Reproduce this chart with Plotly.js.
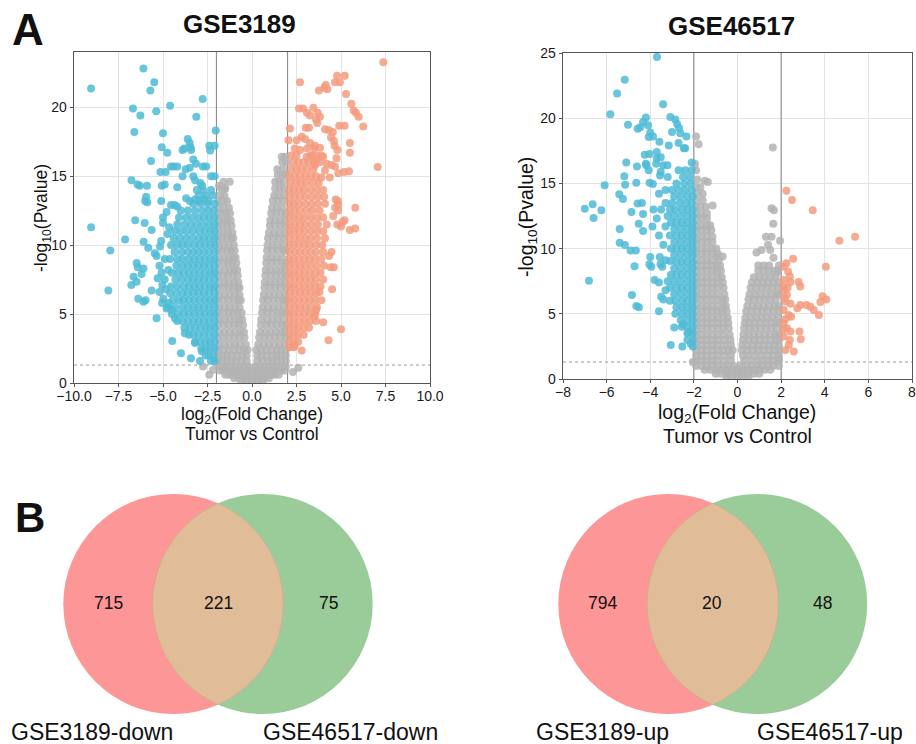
<!DOCTYPE html>
<html>
<head>
<meta charset="utf-8">
<script src="https://cdn.plot.ly/plotly-3.0.1.min.js"></script>
<style>html,body{margin:0;padding:0;background:#fff;}#chart{width:916px;height:744px;}</style>
</head>
<body>
<div id="chart"></div>
<script>
// ---------------- DATA ----------------
// GSE3189 volcano: rows are [y, x1, x2, ...]; pairs are flat [x, y, x, y, ...]
const gse3189NSRows = [
[0.1,-0.6,-0.3,0,0.3,0.6],
[0.35,-1.0,-0.75,-0.5,-0.2,0.1,0.4,0.7,0.95],
[0.6,-1.5,-1.3,-1.1,-0.9,-0.65,-0.4,-0.15,0.1,0.35,0.6,0.85,1.1,1.3,1.5],
[0.9,-1.8,-1.6,-1.4,-1.2,-1.0,-0.75,-0.5,-0.25,0,0.25,0.5,0.75,1.0,1.25,1.45,1.65,1.85],
[1.2,-1.9,-1.7,-1.45,-1.2,-0.95,-0.7,-0.45,-0.2,0.2,0.45,0.7,0.95,1.2,1.45,1.7,1.9],
[1.6,-1.9,-1.65,-1.4,-1.15,-0.9,-0.6,-0.3,0.3,0.6,0.9,1.15,1.4,1.65,1.9],
[2.0,-1.9,-1.65,-1.4,-1.15,-0.85,-0.55,-0.3,0.3,0.55,0.85,1.15,1.4,1.65,1.9],
[2.4,-1.9,-1.6,-1.3,-1.0,-0.7,-0.45,-0.25,0.25,0.5,0.8,1.1,1.4,1.65,1.9],
[2.8,-1.85,-1.55,-1.25,-0.95,-0.65,-0.35,0.35,0.65,0.95,1.25,1.55,1.85],
[3.3,-1.9,-1.6,-1.3,-1.0,-0.7,-0.42,0.4,0.7,1.0,1.3,1.6,1.9],
[3.7,-1.85,-1.55,-1.25,-0.95,-0.65,-0.45,0.45,0.75,1.05,1.35,1.65,1.85],
[4.2,-1.9,-1.6,-1.3,-1.0,-0.75,-0.5,0.5,0.8,1.1,1.4,1.7,1.9],
[4.6,-1.85,-1.55,-1.25,-0.95,-0.7,-0.55,0.52,0.85,1.15,1.45,1.75],
[5.1,-1.9,-1.6,-1.3,-1.05,-0.8,-0.58,0.56,0.85,1.15,1.45,1.7,1.9],
[5.5,-1.85,-1.55,-1.25,-0.95,-0.7,0.6,0.9,1.2,1.5,1.8],
[6.0,-1.9,-1.6,-1.3,-1.0,-0.75,-0.63,0.62,0.9,1.2,1.5,1.75,1.9],
[6.4,-1.85,-1.55,-1.25,-0.95,-0.7,0.66,0.95,1.25,1.55,1.85],
[6.9,-1.9,-1.6,-1.3,-1.05,-0.8,-0.7,0.7,1.0,1.3,1.6,1.9],
[7.3,-1.85,-1.55,-1.3,-1.0,-0.77,0.72,1.0,1.3,1.6,1.85],
[7.8,-1.9,-1.6,-1.35,-1.05,-0.8,0.75,1.05,1.35,1.65,1.9],
[8.2,-1.85,-1.55,-1.25,-1.0,-0.83,0.77,1.05,1.35,1.65,1.85],
[8.7,-1.9,-1.6,-1.35,-1.1,-0.88,0.8,1.1,1.4,1.7,1.9],
[9.1,-1.85,-1.55,-1.3,-1.05,-0.92,0.82,1.1,1.4,1.7],
[9.6,-1.9,-1.65,-1.4,-1.15,-0.97,0.85,1.15,1.45,1.75,1.9],
[10.0,-1.85,-1.6,-1.3,-1.02,0.87,1.15,1.45,1.75],
[10.5,-1.9,-1.65,-1.4,-1.15,-1.05,0.9,1.2,1.5,1.8],
[10.9,-1.85,-1.6,-1.35,-1.1,0.95,1.25,1.55,1.85],
[11.4,-1.9,-1.65,-1.4,-1.15,1.0,1.3,1.6,1.9],
[11.8,-1.85,-1.6,-1.38,-1.2,1.03,1.3,1.6,1.85],
[12.3,-1.9,-1.65,-1.45,-1.23,1.08,1.35,1.65,1.9],
[12.7,-1.85,-1.6,-1.3,1.12,1.4,1.7],
[13.2,-1.9,-1.65,-1.4,1.17,1.45,1.75],
[13.6,-1.8,-1.55,1.25,1.5,1.8],
[14.1,-1.75,-1.5,1.3,1.55,1.8],
[14.6,-1.6,-1.25,1.3,1.55,1.75],
[15.1,1.45,1.7,1.9],
[15.5,1.42,1.75],
[16.0,1.7,1.95],
[16.4,1.67,1.85]
];
const gse3189NSPairs = [-2.75,1.2, -2.2,0.95, -2.4,0.6, 2.3,0.8, 2.6,1.1, -1.85,14.3, -1.55,14.1];

const gse3189DownRows = [
[1.6,-2.1,-2.3],
[2.0,-2.15,-2.4,-2.6],
[2.5,-2.1,-2.35,-2.6,-2.85],
[3.0,-2.1,-2.35,-2.6,-2.9,-3.2],
[3.5,-2.1,-2.4,-2.7,-3.0,-3.3,-3.55],
[4.0,-2.1,-2.35,-2.6,-2.9,-3.2,-3.5,-3.8],
[4.5,-2.1,-2.4,-2.7,-3.0,-3.3,-3.6,-3.9,-4.2],
[5.0,-2.1,-2.35,-2.65,-2.95,-3.25,-3.55,-3.85,-4.15,-4.5],
[5.5,-2.1,-2.4,-2.7,-3.0,-3.3,-3.6,-3.9,-4.3,-4.7],
[6.0,-2.1,-2.35,-2.65,-2.95,-3.25,-3.55,-3.85,-4.1,-4.45],
[6.5,-2.1,-2.4,-2.7,-3.0,-3.3,-3.6,-3.9,-4.25,-4.6],
[7.0,-2.1,-2.35,-2.65,-2.95,-3.25,-3.55,-3.85,-4.2,-4.55],
[7.5,-2.1,-2.4,-2.7,-3.0,-3.3,-3.6,-3.95,-4.3],
[8.0,-2.1,-2.35,-2.65,-2.95,-3.25,-3.55,-3.85,-4.15,-4.5],
[8.5,-2.1,-2.4,-2.7,-3.0,-3.3,-3.6,-3.9,-4.25],
[9.0,-2.1,-2.35,-2.65,-2.95,-3.25,-3.55,-3.9,-4.2,-4.6],
[9.5,-2.1,-2.4,-2.7,-3.0,-3.3,-3.6,-3.95,-4.35],
[10.0,-2.1,-2.35,-2.65,-2.95,-3.25,-3.6,-3.9,-4.2,-4.55],
[10.5,-2.1,-2.4,-2.7,-3.0,-3.35,-3.7,-4.05,-4.4],
[11.0,-2.1,-2.35,-2.65,-2.95,-3.3,-3.65,-4.0,-4.35],
[11.5,-2.1,-2.4,-2.75,-3.1,-3.45,-3.8,-4.2],
[12.0,-2.1,-2.4,-2.7,-3.0,-3.35,-3.7,-4.1],
[12.5,-2.15,-2.45,-2.8,-3.2,-3.6,-4.0],
[13.0,-2.1,-2.5,-2.9,-3.3],
[13.6,-2.2,-2.6,-3.0],
[14.0,-2.3,-2.75,-3.1]
];
const gse3189DownPairs = [
-9.04,21.35, -6.1,22.8, -5.49,21.8, -5.71,21.2, -6.69,19.9, -6.27,19.4, -6.61,18.2, -5.38,19.7, -4.6,20.1, -2.77,20.6,
-3.13,19.3, -2.04,18.3, -5.0,18.1, -5.07,17.1, -4.76,16.7, -5.67,16.1, -3.61,17.7, -3.5,17.4, -3.45,17.1, -3.42,16.9,
-3.9,16.9, -3.8,17.0, -2.4,17.2, -2.1,17.2, -2.35,16.85, -3.3,16.2, -3.15,15.9, -2.76,15.7, -2.57,15.7, -2.3,15.0,
-2.1,15.0, -4.55,15.7, -4.4,15.7, -4.2,15.7, -3.73,15.5, -3.5,15.6, -3.9,15.0, -3.3,15.0, -3.2,14.7, -2.9,14.5,
-2.8,14.3, -5.14,15.3, -4.85,15.3, -6.77,14.7, -6.43,14.4, -6.3,14.3, -5.9,14.3, -5.07,14.3, -4.9,14.4, -4.2,14.2,
-5.95,13.5, -5.88,13.1, -6.0,13.2, -5.1,13.2, -4.55,12.9, -4.35,12.9, -4.2,12.8, -3.7,13.4, -3.5,13.2, -3.2,13.3,
-2.95,13.2, -2.7,13.35, -2.45,13.2,
-9.04,11.3, -7.96,9.6, -8.07,6.7, -7.13,10.4, -6.56,11.8, -6.03,11.6, -6.09,10.24, -6.48,8.7, -6.42,8.4, -6.1,8.3,
-6.2,7.9, -6.65,7.7, -6.78,7.1, -6.48,7.35, -6.39,6.1, -6.1,5.9, -5.98,6.0, -5.64,11.1, -5.83,9.8, -5.46,9.4,
-5.36,9.2, -5.17,9.9, -5.36,4.7, -5.64,6.7, -5.2,6.6, -4.98,6.1, -5.08,8.0, -4.9,7.5, -5.04,7.1, -5.05,5.8,
-4.8,5.4, -4.5,5.3, -4.48,3.04, -3.99,2.15, -3.43,1.8, -2.92,1.6, -3.77,3.6, -4.33,4.7, -3.2,2.9, -2.82,2.3,
-4.8,12.4, -5.0,11.6, -4.75,10.8, -5.1,10.3, -4.9,9.0, -5.2,8.5, -4.7,8.2, -4.85,6.8, -5.3,7.6, -4.7,5.8,
-5.0,12.0, -4.65,11.3
];

const gse3189UpRows = [
[2.6,2.1,2.35],
[3.0,2.1,2.35,2.6],
[3.5,2.1,2.35,2.6,2.9],
[4.0,2.1,2.35,2.6,2.9,3.2],
[4.5,2.1,2.35,2.65,2.95,3.25,3.6],
[5.0,2.1,2.35,2.65,2.95,3.25,3.55],
[5.5,2.1,2.4,2.7,3.0,3.3,3.65],
[6.0,2.1,2.35,2.65,2.95,3.25,3.55,3.9],
[6.5,2.1,2.4,2.7,3.0,3.3,3.6],
[7.0,2.1,2.35,2.65,2.95,3.25,3.55,3.85],
[7.5,2.1,2.4,2.7,3.0,3.3,3.6,4.0],
[8.0,2.1,2.35,2.65,2.95,3.25,3.55,3.85],
[8.5,2.1,2.4,2.7,3.0,3.3,3.65,4.05],
[9.0,2.1,2.35,2.65,2.95,3.25,3.55,3.9],
[9.5,2.1,2.4,2.7,3.0,3.3,3.6,4.0],
[10.0,2.1,2.35,2.65,2.95,3.25,3.6,3.95],
[10.5,2.1,2.4,2.7,3.0,3.3,3.65,4.1],
[11.0,2.1,2.35,2.65,2.95,3.3,3.65,4.0],
[11.5,2.1,2.4,2.7,3.0,3.35,3.7,4.2],
[12.0,2.1,2.35,2.65,2.95,3.3,3.65,4.0],
[12.5,2.1,2.4,2.7,3.05,3.4,3.8],
[13.0,2.1,2.35,2.65,3.0,3.35,3.7,4.1],
[13.5,2.1,2.4,2.7,3.0,3.35,3.7,4.05],
[14.0,2.1,2.35,2.65,2.95,3.3,3.65,4.0],
[14.5,2.15,2.45,2.75,3.05,3.4,3.75],
[15.0,2.1,2.4,2.7,3.0,3.3,3.6],
[15.5,2.2,2.5,2.8,3.1,3.45],
[16.0,2.3,2.6,2.9,3.2,3.5,3.8],
[16.5,2.2,2.5,3.3,3.6,3.9],
[17.0,2.4,3.1,3.5]
];
const gse3189UpPairs = [
7.38,23.26, 4.78,22.27, 5.21,22.27, 4.66,21.8, 4.94,21.8, 2.7,21.8, 3.76,21.2, 4.14,21.6, 4.23,21.3, 4.06,21.4,
5.28,20.96, 5.58,20.24, 5.71,19.76, 5.84,19.6, 5.99,19.3, 6.25,18.6, 7.06,15.67, 2.64,19.9, 2.87,19.9, 3.09,19.6,
3.26,19.4, 3.45,19.95, 3.69,19.6, 3.6,19.1, 3.67,18.85, 3.82,19.3, 2.13,18.45, 3.02,18.5, 3.2,18.5, 4.1,18.4,
4.3,18.35, 4.54,18.2, 4.9,18.65, 5.2,18.65, 2.05,17.6, 2.51,17.6, 2.8,17.85, 2.98,17.7, 3.26,17.4, 3.54,17.2,
3.82,17.05, 4.44,17.8, 4.6,17.55, 4.64,17.2, 4.8,16.9, 5.5,17.4, 5.5,16.7, 4.75,16.3, 4.66,15.7, 4.85,15.2,
5.17,15.3, 5.45,15.35, 2.7,16.9, 3.07,16.4, 3.35,16.5, 3.64,16.2, 3.54,15.8, 4.0,16.4, 4.2,15.9, 4.46,15.8,
4.1,15.4, 3.9,14.9, 4.37,14.9, 4.7,13.3, 4.85,12.9, 5.8,12.7, 5.5,11.1, 5.8,11.2, 5.1,11.7, 4.79,11.5,
5.0,11.35, 5.2,11.8, 4.84,12.5, 4.56,12.1, 4.82,13.2, 4.67,12.7, 4.47,9.5, 4.33,9.2, 4.42,8.4, 4.6,8.4,
4.5,6.8, 5.0,3.9, 4.3,3.1, 4.0,4.4, 3.6,5.3, 3.5,4.8, 2.79,2.35, 2.4,2.7, 3.79,6.6
];

// GSE46517 volcano
const gse46517NSRows = [
[0.15,-0.5,-0.25,0,0.25,0.5],
[0.4,-1.0,-0.75,-0.5,-0.25,0,0.25,0.5,0.75,1.0],
[0.7,-1.5,-1.25,-1.0,-0.75,-0.5,-0.25,0,0.25,0.5,0.75,1.0,1.25,1.5],
[1.0,-1.9,-1.65,-1.4,-1.15,-0.9,-0.65,-0.4,-0.15,0.15,0.4,0.65,0.9,1.15,1.4,1.65,1.9],
[1.4,-1.9,-1.65,-1.4,-1.15,-0.9,-0.6,-0.3,0.3,0.6,0.9,1.15,1.4,1.65,1.9],
[1.8,-1.9,-1.65,-1.4,-1.15,-0.9,-0.6,-0.3,0.25,0.5,0.8,1.1,1.4,1.65,1.9],
[2.2,-1.9,-1.65,-1.4,-1.15,-0.9,-0.65,-0.4,-0.22,0.2,0.45,0.7,0.95,1.2,1.45,1.7,1.9],
[2.6,-1.9,-1.65,-1.4,-1.15,-0.9,-0.6,-0.3,0.22,0.45,0.7,0.95,1.2,1.45,1.7,1.9],
[3.0,-1.9,-1.65,-1.4,-1.15,-0.9,-0.6,-0.32,0.25,0.5,0.75,1.0,1.25,1.5,1.75,1.9],
[3.4,-1.9,-1.65,-1.4,-1.15,-0.9,-0.65,-0.36,0.27,0.5,0.75,1.0,1.25,1.5,1.75,1.9],
[3.9,-1.9,-1.65,-1.4,-1.15,-0.9,-0.65,-0.4,0.3,0.55,0.8,1.05,1.3,1.55,1.8],
[4.3,-1.9,-1.65,-1.4,-1.15,-0.9,-0.65,-0.42,0.33,0.55,0.8,1.05,1.3,1.55,1.8,1.9],
[4.7,-1.9,-1.65,-1.4,-1.15,-0.9,-0.65,-0.45,0.36,0.6,0.85,1.1,1.35,1.6,1.85],
[5.2,-1.9,-1.65,-1.4,-1.15,-0.9,-0.7,-0.5,0.4,0.65,0.9,1.15,1.4,1.65,1.9],
[5.6,-1.9,-1.65,-1.4,-1.15,-0.9,-0.65,-0.53,0.45,0.7,0.95,1.2,1.45,1.7,1.9],
[6.1,-1.9,-1.65,-1.4,-1.15,-0.9,-0.68,-0.56,0.5,0.75,1.0,1.25,1.5,1.75],
[6.5,-1.9,-1.65,-1.4,-1.15,-0.9,-0.6,0.55,0.8,1.05,1.3,1.55,1.8,1.9],
[7.0,-1.9,-1.65,-1.4,-1.15,-0.9,-0.64,0.6,0.85,1.1,1.35,1.6,1.85],
[7.4,-1.9,-1.65,-1.4,-1.15,-0.9,-0.68,0.66,0.9,1.15,1.4,1.65,1.9],
[7.8,-1.9,-1.65,-1.4,-1.15,-0.9,-0.72,0.75,1.0,1.25,1.5,1.75],
[8.3,-1.9,-1.65,-1.4,-1.15,-0.95,-0.76,0.95,1.2,1.45,1.7,1.85],
[8.7,-1.9,-1.65,-1.4,-1.15,-0.95,-0.8,0.95,1.2,1.45,1.9],
[9.1,-1.9,-1.65,-1.4,-1.15,-0.85],
[9.6,-1.9,-1.65,-1.4,-1.15,-0.9],
[10.0,-1.9,-1.65,-1.4,-1.15,-0.97],
[10.5,-1.9,-1.65,-1.4,-1.15],
[10.9,-1.9,-1.65,-1.4,-1.15],
[11.4,-1.9,-1.65,-1.4,-1.2],
[11.8,-1.9,-1.65,-1.4,-1.25],
[12.3,-1.9,-1.65,-1.4],
[12.7,-1.9,-1.65,-1.4],
[13.2,-1.9,-1.7,-1.45],
[13.7,-1.9,-1.6],
[14.2,-1.85,-1.6],
[14.7,-1.9,-1.7]
];
const gse46517NSPairs = [
-1.5,15.2, -1.36,15.1, -1.85,15.3, -1.9,16.0, -1.95,16.5, -1.78,18.0, -1.9,18.6, -1.14,13.3, -0.94,9.4, -0.68,9.4,
1.65,9.3, 1.5,9.9, 1.1,9.9, 0.87,9.7, 1.4,10.3, 1.3,10.9, 1.56,10.9, 1.95,10.6, 1.64,11.9, 1.56,13.1,
1.67,12.95, 1.62,17.76, 1.85,8.2, -2.05,1.3, 1.9,1.5
];

const gse46517DownRows = [
[2.5,-2.05],
[3.0,-2.05,-2.3],
[3.5,-2.05,-2.3],
[4.0,-2.05,-2.3,-2.55],
[4.5,-2.05,-2.3,-2.6],
[5.0,-2.05,-2.3,-2.55,-2.85],
[5.5,-2.05,-2.3,-2.55,-2.8],
[6.0,-2.05,-2.3,-2.55,-2.85,-3.1],
[6.5,-2.05,-2.3,-2.6,-2.9],
[7.0,-2.05,-2.3,-2.55,-2.8,-3.1],
[7.5,-2.05,-2.3,-2.6,-2.9,-3.2],
[8.0,-2.05,-2.3,-2.55,-2.8,-3.05],
[8.5,-2.05,-2.3,-2.6,-2.9],
[9.0,-2.05,-2.3,-2.55,-2.8],
[9.5,-2.05,-2.3,-2.6,-2.9],
[10.0,-2.05,-2.3,-2.55,-2.8,-3.05],
[10.5,-2.05,-2.3,-2.6,-2.9],
[11.0,-2.05,-2.3,-2.55,-2.8,-3.1],
[11.5,-2.05,-2.3,-2.6,-2.9],
[12.0,-2.05,-2.3,-2.55,-2.8,-3.05],
[12.5,-2.05,-2.3,-2.6,-2.9,-3.2],
[13.0,-2.05,-2.3,-2.55,-2.85,-3.1],
[13.5,-2.1,-2.35,-2.65,-3.0,-3.3],
[14.0,-2.05,-2.3,-2.6,-2.9],
[14.5,-2.1,-2.4,-2.7,-3.0],
[15.0,-2.15,-2.45,-2.8],
[15.5,-2.2,-2.5],
[16.0,-2.1,-2.4,-2.7],
[16.6,-2.1]
];
const gse46517DownPairs = [
-3.69,24.7, -5.17,22.95, -5.52,21.9, -3.41,21.07, -5.83,20.3, -5.02,19.5, -4.33,19.7, -4.2,20.05, -4.58,19.2, -4.46,19.3,
-4.1,19.45, -4.0,18.9, -3.87,18.6, -4.07,18.55, -3.58,18.2, -3.08,20.1, -2.85,19.9, -2.77,19.55, -2.68,19.25, -3.0,18.95,
-2.62,18.85, -3.15,17.9, -2.7,18.1, -2.34,18.6, -2.46,17.7, -2.4,17.7, -6.09,14.85, -7.0,13.06, -6.64,13.4, -6.6,12.35,
-6.24,12.95, -6.81,7.54, -5.42,14.16, -5.25,13.8, -5.1,16.6, -5.19,15.55, -5.15,14.9, -4.64,15.05, -4.61,16.3, -5.4,11.5,
-5.4,10.45, -5.16,10.27, -4.9,9.86, -4.66,9.86, -4.72,8.65, -4.86,12.8, -4.58,13.45, -4.38,13.5, -4.33,12.65, -4.53,11.9,
-4.33,11.35, -4.84,6.44, -4.64,5.6, -4.52,5.5, -3.6,5.2, -4.03,15.05, -3.88,14.95, -4.07,16.0, -4.2,16.5, -4.25,17.2,
-4.03,17.25, -4.18,16.4, -3.7,17.4, -3.7,16.9, -3.52,17.0, -3.73,16.5, -3.4,16.4, -3.21,16.4, -3.52,15.9, -3.55,15.6,
-4.0,9.35, -4.04,8.8, -3.95,8.6, -3.56,9.35, -3.53,8.8, -3.45,8.6, -3.3,9.1, -3.08,9.05, -3.4,6.1, -3.06,2.6,
-2.53,2.5, -2.14,2.7, -2.23,3.6, -2.5,4.2, -2.9,3.95, -3.5,13.0, -3.7,12.3, -3.3,11.7, -3.6,11.0, -3.4,10.3,
-3.8,7.6, -3.6,7.4, -3.3,6.8, -3.5,6.3, -3.9,11.7, -3.3,14.5, -3.6,14.2, -3.2,15.5, -3.85,13.0
];
const gse46517UpPairs = [
2.24,14.44, 2.5,13.72, 3.45,12.94, 4.67,10.6, 5.39,10.9, 4.05,8.6, 2.55,9.23, 2.24,8.87, 2.12,8.6, 2.32,8.24,
2.4,7.86, 2.12,7.6, 2.43,7.43, 2.8,7.43, 2.88,7.1, 2.12,6.84, 2.27,6.46, 2.2,5.95, 2.43,5.77, 2.74,5.43,
2.88,5.68, 3.16,5.68, 3.34,5.55, 3.5,5.3, 3.73,4.9, 3.8,5.9, 4.07,6.1, 3.9,6.35, 2.12,5.3, 2.35,4.9,
2.46,4.77, 2.12,4.27, 2.27,3.89, 2.43,3.64, 2.12,3.25, 2.4,3.0, 2.84,3.64, 2.9,3.05, 2.2,2.23, 2.58,2.1,
2.35,2.6, 2.1,7.1, 2.3,7.0, 2.15,6.2, 2.2,4.6, 2.1,3.8
];

// thresholds
const logFCCut = 2;
const pCutLog = 1.3;

// Venn data
const downSetLabels = ['GSE3189-down', 'GSE46517-down'];
const downCounts = [715, 221, 75];
const upSetLabels = ['GSE3189-up', 'GSE46517-up'];
const upCounts = [794, 20, 48];

const panelTitles = ['GSE3189', 'GSE46517'];

// ---------------- HELPERS ----------------
function fromRows(rows){const x=[],y=[];rows.forEach(r=>{for(let i=1;i<r.length;i++){x.push(r[i]);y.push(r[0]);}});return {x,y};}
function fromPairs(p){const x=[],y=[];for(let i=0;i<p.length;i+=2){x.push(p[i]);y.push(p[i+1]);}return {x,y};}
function merge(a,b){return {x:a.x.concat(b.x),y:a.y.concat(b.y)};}

const W=916,H=744;
const FONT='"Liberation Sans", Arial, Helvetica, sans-serif';
const GREY='#B3B3B3', BLUE='#4DBBD5', RED='#F39B7F';
const px=v=>v/W, py=v=>1-v/H;

function pts(d,color,xa,ya){
  return {type:'scatter',mode:'markers',x:d.x,y:d.y,xaxis:xa,yaxis:ya,hoverinfo:'skip',
    marker:{size:8,color:color,opacity:0.85,line:{width:0}}};
}

const data=[
  pts(merge(fromRows(gse3189NSRows),fromPairs(gse3189NSPairs)),GREY,'x','y'),
  pts(merge(fromRows(gse3189DownRows),fromPairs(gse3189DownPairs)),BLUE,'x','y'),
  pts(merge(fromRows(gse3189UpRows),fromPairs(gse3189UpPairs)),RED,'x','y'),
  pts(merge(fromRows(gse46517NSRows),fromPairs(gse46517NSPairs)),GREY,'x2','y2'),
  pts(merge(fromRows(gse46517DownRows),fromPairs(gse46517DownPairs)),BLUE,'x2','y2'),
  pts(fromPairs(gse46517UpPairs),RED,'x2','y2')
];

function axisBase(){
  return {showgrid:true,gridcolor:'#E3E3E3',gridwidth:1,zeroline:false,showline:true,mirror:true,
    linecolor:'#555555',linewidth:1.3,ticks:'outside',ticklen:3,tickcolor:'#555555',
    ticklabeloverflow:'allow',
    tickfont:{size:14,color:'#1a1a1a',family:FONT},fixedrange:true};
}
const xaxis=Object.assign(axisBase(),{domain:[px(74),px(430)],range:[-10,10],tick0:-10,dtick:2.5,tickformat:'.1f',anchor:'y',ticklabelstandoff:-3});
const yaxis=Object.assign(axisBase(),{domain:[py(383),py(52)],range:[0,24],tick0:0,dtick:5,anchor:'x'});
const xaxis2=Object.assign(axisBase(),{domain:[px(563),px(912)],range:[-8,8],tick0:-8,dtick:2,anchor:'y2',ticklabelstandoff:-3});
const yaxis2=Object.assign(axisBase(),{domain:[py(379),py(53)],range:[0,25],tick0:0,dtick:5,anchor:'x2'});

const shapes=[];
function thresholds(xr,yr,ymax,xmin,xmax){
  [-logFCCut,logFCCut].forEach(v=>shapes.push({type:'line',xref:xr,yref:yr,x0:v,x1:v,y0:0,y1:ymax,layer:'between',line:{color:'#808080',width:1}}));
  shapes.push({type:'line',xref:xr,yref:yr,x0:xmin,x1:xmax,y0:pCutLog,y1:pCutLog,layer:'between',line:{color:'#9a9a9a',width:1,dash:'dot'}});
}
thresholds('x','y',24,-10,10);
thresholds('x2','y2',25,-8,8);

// Venn geometry (pixel layout)
function venn(cx1,cx2,cy,r){
  shapes.push({type:'circle',xref:'paper',yref:'paper',x0:px(cx1-r),x1:px(cx1+r),y0:py(cy+r),y1:py(cy-r),fillcolor:'rgb(253,150,150)',line:{width:0},layer:'above'});
  shapes.push({type:'circle',xref:'paper',yref:'paper',x0:px(cx2-r),x1:px(cx2+r),y0:py(cy+r),y1:py(cy-r),fillcolor:'rgb(153,204,153)',line:{width:0},layer:'above'});
  const d=cx2-cx1, a=Math.acos((d/2)/r), n=60, P=[];
  for(let i=0;i<=n;i++){const t=Math.PI-a+2*a*i/n;P.push([cx2+r*Math.cos(t),cy+r*Math.sin(t)]);}
  for(let i=0;i<=n;i++){const t=-a+2*a*i/n;P.push([cx1+r*Math.cos(t),cy+r*Math.sin(t)]);}
  const path=P.map((p,i)=>(i?'L':'M')+px(p[0]).toFixed(5)+','+py(p[1]).toFixed(5)).join(' ')+' Z';
  shapes.push({type:'path',xref:'paper',yref:'paper',path:path,fillcolor:'rgb(224,188,152)',line:{color:'rgb(214,170,140)',width:0.8},layer:'above'});
}
venn(173.3,262.7,604,110);
venn(668.3,757.2,604,110);

const ann=[];
function txt(x,y,text,size,opts){
  ann.push(Object.assign({xref:'paper',yref:'paper',x:px(x),y:py(y),text:text,showarrow:false,xanchor:'center',yanchor:'middle',
    font:{family:FONT,size:size,color:'#111111'}},opts||{}));
}
txt(28,30,'<b>A</b>',44);
txt(30,517,'<b>B</b>',42);
txt(239,24,'<b>'+panelTitles[0]+'</b>',26);
txt(731,26,'<b>'+panelTitles[1]+'</b>',26);
txt(252,416,'log<sub>2</sub>(Fold Change)',17.5);
txt(252,434,'Tumor vs Control',17.5);
txt(737,414,'log<sub>2</sub>(Fold Change)',19.5);
txt(737.5,436,'Tumor vs Control',19.5);
txt(43,218,'-log<sub>10</sub>(Pvalue)',17.5,{textangle:-90});
txt(527,217,'-log<sub>10</sub>(Pvalue)',19.5,{textangle:-90});
// Venn counts & labels
[108.5,218,328].forEach((x,i)=>txt(x,603,String(downCounts[i]),17.5));
[602.7,712.3,822.3].forEach((x,i)=>txt(x,603,String(upCounts[i]),17.5));
txt(92,732,downSetLabels[0],23);
txt(350,732,downSetLabels[1],23);
txt(602,732,upSetLabels[0],23);
txt(830,732,upSetLabels[1],23);

const layout={width:W,height:H,margin:{l:0,r:0,t:0,b:0,pad:0},paper_bgcolor:'#ffffff',plot_bgcolor:'#ffffff',
  showlegend:false,font:{family:FONT,color:'#1a1a1a'},xaxis,yaxis,xaxis2,yaxis2,shapes,annotations:ann,hovermode:false};

Plotly.newPlot('chart',data,layout,{displayModeBar:false,staticPlot:true});
</script>
</body>
</html>
